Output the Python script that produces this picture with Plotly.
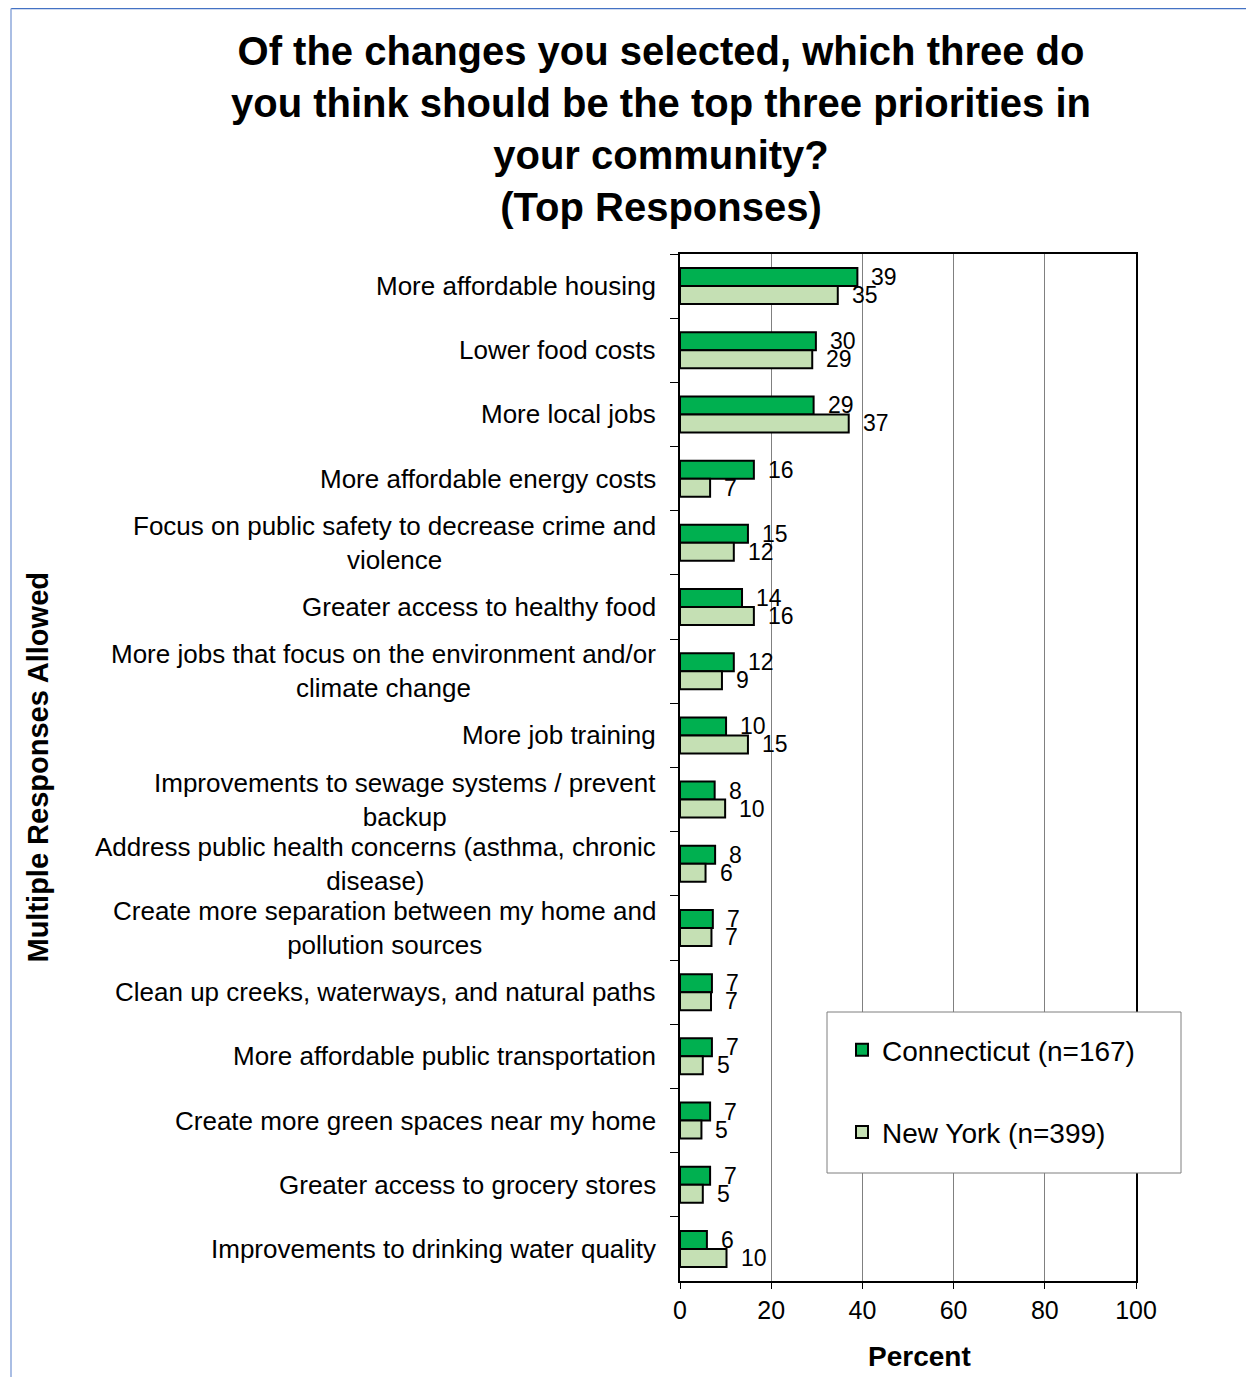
import plotly.graph_objects as go

categories = [
    "More affordable housing",
    "Lower food costs",
    "More local jobs",
    "More affordable energy costs",
    "Focus on public safety to decrease crime and<br>violence",
    "Greater access to healthy food",
    "More jobs that focus on the environment and/or<br>climate change",
    "More job training",
    "Improvements to sewage systems / prevent<br>backup",
    "Address public health concerns (asthma, chronic<br>disease)",
    "Create more separation between my home and<br>pollution sources",
    "Clean up creeks, waterways, and natural paths",
    "More affordable public transportation",
    "Create more green spaces near my home",
    "Greater access to grocery stores",
    "Improvements to drinking water quality",
]
connecticut = [38.9, 29.8, 29.3, 16.2, 14.9, 13.6, 11.8, 10.1, 7.6, 7.7, 7.2, 7.0, 7.0, 6.6, 6.6, 5.9]
new_york = [34.6, 29.0, 37.0, 6.6, 11.8, 16.2, 9.2, 14.9, 9.9, 5.6, 6.9, 6.8, 5.0, 4.7, 5.0, 10.2]
series_names = ["Connecticut (n=167)", "New York (n=399)"]
series_colors = ["#00B050", "#C5E0B4"]
x_ticks = [0, 20, 40, 60, 80, 100]

FONT = "Liberation Sans, Arial, sans-serif"
OFF = 8  # page body margin
W, H = 1238, 1369
ML = 680 - OFF
MT = 254 - OFF
MR = W - (1136 - OFF)
MB = H - (1281 - OFF)
PW, PH = W - ML - MR, H - MT - MB


def px_x(px):
    return (px - OFF - ML) / PW


def px_y(py):
    return (H - MB - (py - OFF)) / PH


fig = go.Figure()
for i, (name, vals) in enumerate(zip(series_names, [connecticut, new_york])):
    fig.add_trace(go.Bar(
        y=categories, x=vals, name=name, orientation="h",
        marker=dict(color=series_colors[i], line=dict(color="black", width=2)),
        legendgroup=f"g{i}",
    ))

annotations = []
for cat, a, b in zip(categories, connecticut, new_york):
    for v, ys in ((a, 9), (b, -9)):
        annotations.append(dict(
            x=v, y=cat, xref="x", yref="y", text=f"{round(v)}", showarrow=False,
            xanchor="left", yanchor="middle", xshift=12, yshift=ys,
            font=dict(family=FONT, size=23, color="black"),
        ))
    annotations.append(dict(
        x=0, y=cat, xref="paper", yref="y", text=cat, showarrow=False,
        xanchor="right", yanchor="middle", align="center", xshift=-22,
        font=dict(family=FONT, size=26, color="black"),
    ))

annotations.append(dict(
    x=px_x(37), y=0.5, xref="paper", yref="paper", text="<b>Multiple Responses Allowed</b>",
    textangle=-90, showarrow=False, xanchor="center", yanchor="middle",
    font=dict(family=FONT, size=29, color="black"),
))
annotations.append(dict(
    x=px_x(919), y=px_y(1356), xref="paper", yref="paper", text="<b>Percent</b>",
    showarrow=False, xanchor="center", yanchor="middle",
    font=dict(family=FONT, size=28, color="black"),
))

shapes = [
    dict(type="line", xref="paper", yref="paper", x0=px_x(11), x1=px_x(1270),
         y0=px_y(8.5), y1=px_y(8.5), line=dict(color="#4472C4", width=1.5)),
    dict(type="line", xref="paper", yref="paper", x0=px_x(11), x1=px_x(11),
         y0=px_y(8.5), y1=px_y(1400), line=dict(color="#8EA9DB", width=1.5)),
    dict(type="rect", xref="paper", yref="paper", x0=px_x(827), x1=px_x(1181),
         y0=px_y(1012), y1=px_y(1173), fillcolor="white",
         line=dict(color="#7F7F7F", width=1), layer="above"),
]

fig.update_layout(
    width=W, height=H, autosize=False,
    margin=dict(l=ML, r=MR, t=MT, b=MB),
    paper_bgcolor="white", plot_bgcolor="white",
    font=dict(family=FONT, color="black"),
    title=dict(
        text="<b>Of the changes you selected, which three do<br>you think should be the top three priorities in<br>your community?<br>(Top Responses)</b>",
        x=(661 - OFF) / W, xref="container", xanchor="center",
        y=1 - (65 - OFF) / H, yref="container", yanchor="middle",
        font=dict(family=FONT, size=40, color="black"),
    ),
    barmode="group", bargap=0.44, bargroupgap=0,
    showlegend=True,
    legend=dict(
        x=px_x(842), y=px_y(1025), xanchor="left", yanchor="top",
        bgcolor="rgba(0,0,0,0)", borderwidth=0,
        font=dict(family=FONT, size=28, color="black"),
        traceorder="grouped", tracegroupgap=43,
    ),
    xaxis=dict(
        range=[0, 100], tickvals=x_ticks, ticks="outside", ticklen=6, tickcolor="black",
        showgrid=True, gridcolor="#808080", gridwidth=1, zeroline=False,
        showline=True, linecolor="black", linewidth=2, mirror=True,
        tickfont=dict(family=FONT, size=25, color="black"),
    ),
    yaxis=dict(
        type="category", categoryorder="array", categoryarray=categories,
        autorange="reversed", showticklabels=False, tickson="boundaries",
        ticks="outside", ticklen=8, tickcolor="black", showgrid=False,
        showline=True, linecolor="black", linewidth=2, mirror=True,
    ),
    annotations=annotations,
    shapes=shapes,
)

fig.write_html("out.html")
